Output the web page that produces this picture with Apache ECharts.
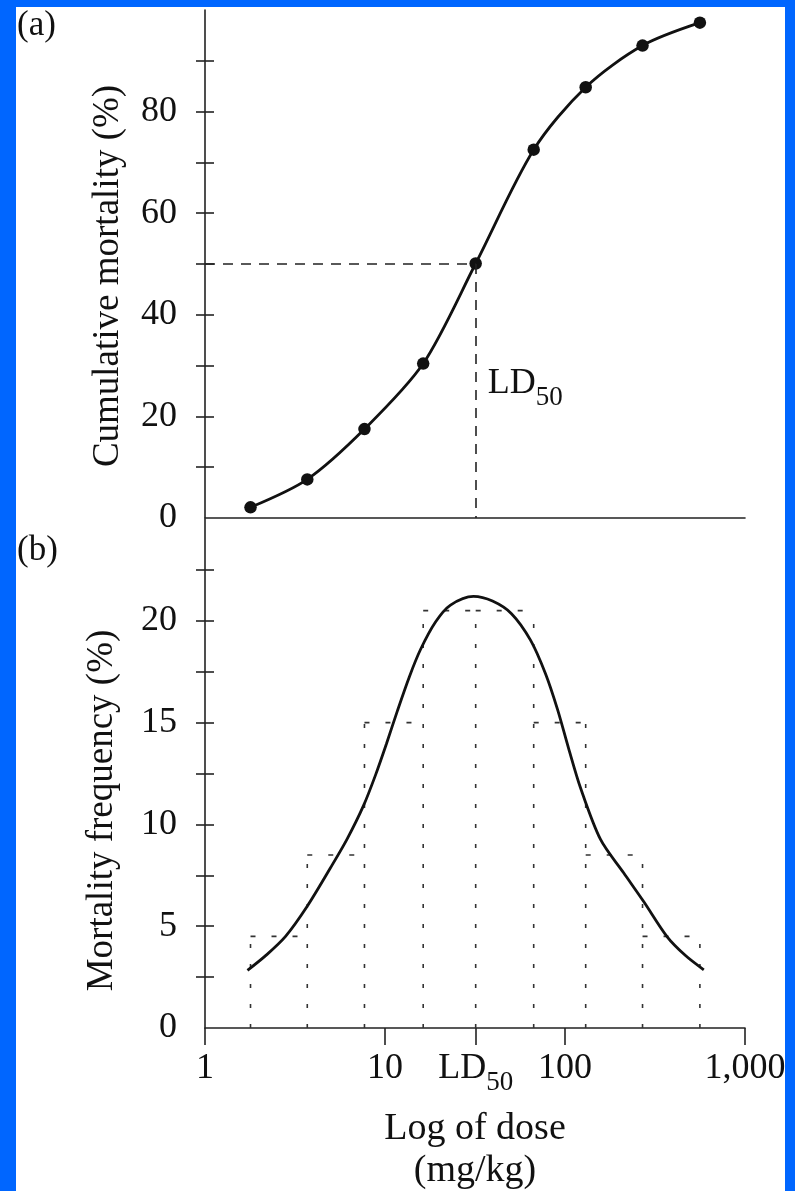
<!DOCTYPE html>
<html><head><meta charset="utf-8">
<script src="https://cdn.jsdelivr.net/npm/echarts@6/dist/echarts.min.js"></script>
<style>
html,body{margin:0;padding:0;background:#0066ff;width:795px;height:1191px;overflow:hidden}
#chart{position:absolute;left:16px;top:7px;width:769px;height:1184px;background:#fff}
</style></head><body><div id="chart"></div>
<script>
// ---- Panel (a): cumulative mortality ----
const doses = [1.79, 3.70, 7.69, 16.3, 31.9, 67.0, 130.3, 269.6, 561.6];
const cumulativeMortality = [2.1, 7.6, 17.5, 30.4, 50.1, 72.5, 84.8, 93.0, 97.5];
const ld50Dose = 31.9;
const ld50Level = 50;

// ---- Panel (b): mortality frequency ----
const binEdges = [1.79, 3.70, 7.69, 16.3, 31.9, 67.0, 130.3, 269.6, 561.6];
const binFrequency = [4.5, 8.5, 15.0, 20.5, 20.5, 15.0, 8.5, 4.5];
const curveDoses = [1.722, 2.196, 2.802, 3.697, 4.981, 6.166, 7.596, 8.856, 10.19, 11.73, 13.68, 15.75, 19.08, 23.11, 31.02, 39.56, 50.44, 64.33, 77.94, 90.86, 104.6, 121.9, 157.5, 212.1, 274.1, 369.6, 467.1, 590.3];
const curveFrequency = [2.83, 3.59, 4.5, 5.98, 7.87, 9.29, 10.92, 12.42, 13.96, 15.59, 17.27, 18.59, 19.94, 20.77, 21.2, 20.97, 20.35, 19.05, 17.4, 15.65, 13.75, 11.8, 9.26, 7.61, 6.2, 4.48, 3.56, 2.86];

// ---- Ticks / labels ----
const xTickValues = [1, 10, ld50Dose, 100, 1000];
const xTickLabels = ['1', '10', 'LD50', '100', '1,000'];
const cumulativeLabels = [0, 20, 40, 60, 80];
const cumulativeTicks = [10, 20, 30, 40, 50, 60, 70, 80, 90];
const frequencyLabels = [0, 5, 10, 15, 20];
const frequencyTicks = [2.5, 5, 7.5, 10, 12.5, 15, 17.5, 20, 22.5];

const FONT = '"Liberation Serif", "Times New Roman", serif';
const INK = '#111';
const AX = { color: '#222', width: 1.6 };
const subRich = {
  ld: { fontFamily: FONT, fontSize: 36, color: INK, verticalAlign: 'top' },
  sub: { fontFamily: FONT, fontSize: 27, color: INK, verticalAlign: 'bottom', lineHeight: 45 }
};

const chart = echarts.init(document.getElementById('chart'), null, { renderer: 'canvas' });

function mainY(gridIndex, max, labels, ticks, name, gap, shift) {
  return {
    type: 'value', gridIndex, min: 0, max, position: 'left',
    axisLine: { show: true, onZero: false, lineStyle: AX },
    axisTick: { show: true, inside: false, length: 9, customValues: ticks, lineStyle: AX },
    axisLabel: { show: true, customValues: labels, margin: 28, fontFamily: FONT, fontSize: 36, color: INK },
    splitLine: { show: false },
    name, nameLocation: 'middle', nameRotate: 90, nameGap: gap, nameMoveOverlap: false,
    nameTextStyle: { fontFamily: FONT, fontSize: 37, color: INK, padding: [0, shift * 2, 0, 0] }
  };
}
function innerY(gridIndex, max, ticks) {
  return {
    type: 'value', gridIndex, min: 0, max, position: 'left',
    axisLine: { show: false },
    axisTick: { show: true, inside: true, length: 9, customValues: ticks, lineStyle: AX },
    axisLabel: { show: false },
    splitLine: { show: false }
  };
}

const option = {
  animation: false,
  backgroundColor: '#ffffff',
  grid: [
    { left: 189, top: 3, width: 540, height: 508, outerBoundsMode: 'none', containLabel: false },
    { left: 189, top: 512, width: 540, height: 509, outerBoundsMode: 'none', containLabel: false }
  ],
  xAxis: [
    {
      type: 'log', logBase: 10, gridIndex: 0, min: 1, max: 1000,
      axisLine: { show: true, onZero: false, lineStyle: AX },
      axisTick: { show: false }, axisLabel: { show: false }, splitLine: { show: false }
    },
    {
      type: 'log', logBase: 10, gridIndex: 1, min: 1, max: 1000,
      axisLine: { show: true, onZero: false, lineStyle: AX },
      axisTick: { show: true, inside: false, length: 17, customValues: xTickValues, lineStyle: AX },
      axisLabel: {
        show: true, customValues: xTickValues, margin: 23,
        fontFamily: FONT, fontSize: 36, color: INK, rich: subRich,
        formatter: function (v) {
          let idx = 0, best = Infinity;
          xTickValues.forEach(function (t, i) { const d = Math.abs(Math.log10(t) - Math.log10(v)); if (d < best) { best = d; idx = i; } });
          const s = xTickLabels[idx];
          return s === 'LD50' ? '{ld|LD}{sub|50}' : s;
        }
      },
      splitLine: { show: false },
      name: 'Log of dose\n(mg/kg)', nameLocation: 'middle', nameGap: 80, nameMoveOverlap: false,
      nameTextStyle: { fontFamily: FONT, fontSize: 38, lineHeight: 42, color: INK }
    }
  ],
  yAxis: [
    mainY(0, 100, cumulativeLabels, cumulativeTicks, 'Cumulative mortality (%)', 78, 12),
    innerY(0, 100, cumulativeTicks),
    mainY(1, 25, frequencyLabels, frequencyTicks, 'Mortality frequency (%)', 84, 37),
    innerY(1, 25, frequencyTicks)
  ],
  graphic: [
    { type: 'text', left: 1, top: 1, style: { text: '(a)', fontFamily: FONT, fontSize: 35, fill: INK } },
    { type: 'text', left: 1, top: 526, style: { text: '(b)', fontFamily: FONT, fontSize: 35, fill: INK } }
  ],
  series: [
    {
      type: 'custom', xAxisIndex: 1, yAxisIndex: 2, z: 1, silent: true,
      data: binFrequency.map(function (h, i) { return [binEdges[i], binEdges[i + 1], h]; }),
      renderItem: function (params, api) {
        const i = params.dataIndex;
        const x0 = api.value(0), x1 = api.value(1), h = api.value(2);
        const prev = i > 0 ? binFrequency[i - 1] : 0;
        const style = { stroke: '#333', lineWidth: 1.6, lineDash: [4, 16], fill: null };
        const children = [];
        const b0 = api.coord([x0, 0]), t0 = api.coord([x0, Math.max(prev, h)]);
        children.push({ type: 'line', shape: { x1: b0[0], y1: b0[1], x2: t0[0], y2: t0[1] }, style });
        const h0 = api.coord([x0, h]), h1 = api.coord([x1, h]);
        children.push({ type: 'line', shape: { x1: h0[0], y1: h0[1], x2: h1[0], y2: h1[1] }, style: { stroke: '#333', lineWidth: 1.6, lineDash: [5, 16], fill: null } });
        if (i === binFrequency.length - 1) {
          const b1 = api.coord([x1, 0]);
          children.push({ type: 'line', shape: { x1: b1[0], y1: b1[1], x2: h1[0], y2: h1[1] }, style });
        }
        return { type: 'group', children };
      }
    },
    {
      type: 'line', xAxisIndex: 1, yAxisIndex: 2, z: 3, smooth: 0.3, showSymbol: false, silent: true,
      data: curveDoses.map(function (d, i) { return [d, curveFrequency[i]]; }),
      lineStyle: { color: INK, width: 2.8 }
    },
    {
      type: 'line', xAxisIndex: 0, yAxisIndex: 0, z: 3, smooth: 0.3, silent: true,
      symbol: 'circle', symbolSize: 12.5,
      data: doses.map(function (d, i) { return [d, cumulativeMortality[i]]; }),
      lineStyle: { color: INK, width: 2.8 },
      itemStyle: { color: INK },
      markLine: {
        silent: true, symbol: ['none', 'none'], label: { show: false },
        lineStyle: { color: '#222', width: 1.6, type: [10, 8] },
        data: [
          [{ coord: [1, ld50Level] }, { coord: [ld50Dose, ld50Level] }],
          [{ coord: [ld50Dose, ld50Level] }, { coord: [ld50Dose, 0] }]
        ]
      },
      markPoint: {
        silent: true, symbol: 'circle', symbolSize: 0, itemStyle: { color: 'rgba(0,0,0,0)' },
        label: {
          show: true, position: 'right', distance: 12, formatter: '{ld|LD}{sub|50}', rich: subRich
        },
        data: [{ coord: [ld50Dose, 25.5] }]
      }
    }
  ]
};
chart.setOption(option);
</script></body></html>
